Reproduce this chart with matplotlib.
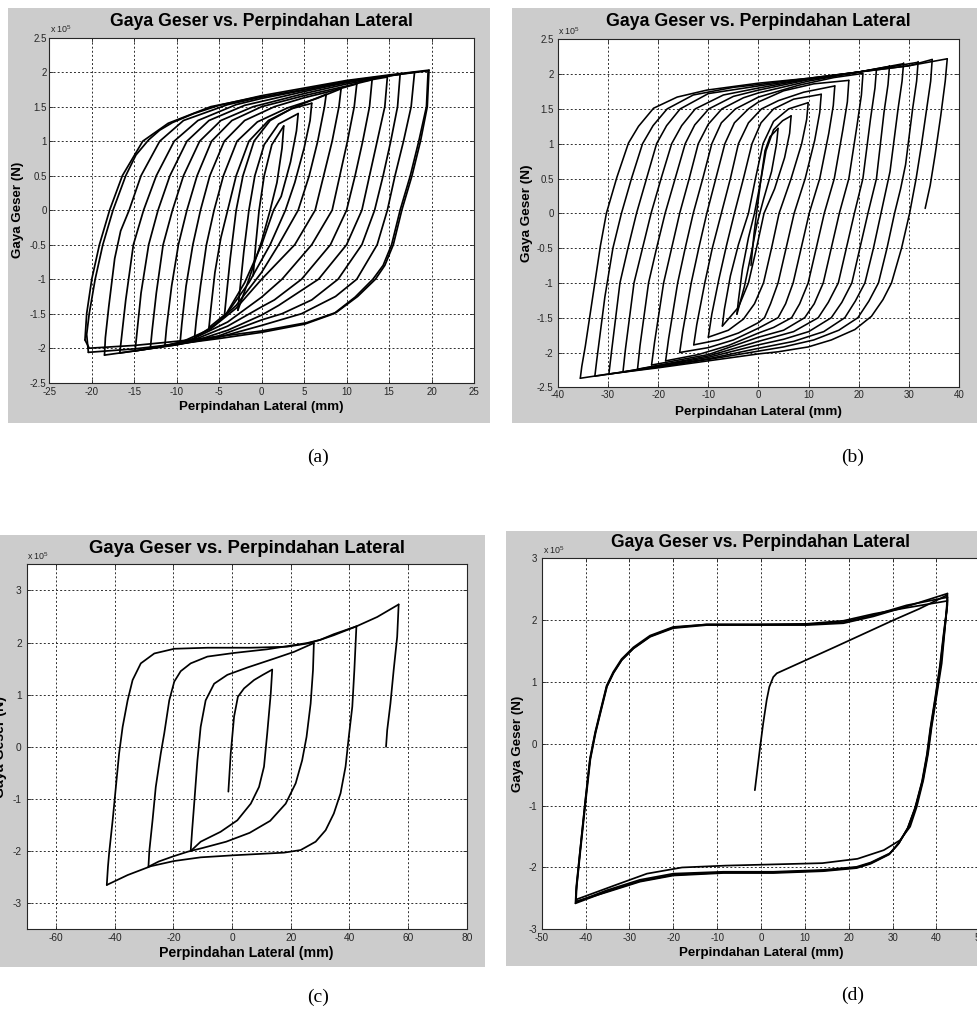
import matplotlib
matplotlib.use("Agg")
import matplotlib.pyplot as plt
from matplotlib.patches import Rectangle
from matplotlib.ticker import FixedLocator, FuncFormatter

# ===================== DATA (force in units of 1e5 N, displacement in mm) =====================
TITLE = "Gaya Geser vs. Perpindahan Lateral"
XLABEL = "Perpindahan Lateral (mm)"
YLABEL = "Gaya Geser (N)"
SCALE_LABEL = r"x 10$^{5}$"
PANEL_LABELS = ["(a)", "(b)", "(c)", "(d)"]

# ---------- panel (a) ----------
a_xlim = (-25, 25)
a_ylim = (-2.5, 2.5)
a_xticks = [-25, -20, -15, -10, -5, 0, 5, 10, 15, 20, 25]
a_yticks = [-2.5, -2, -1.5, -1, -0.5, 0, 0.5, 1, 1.5, 2, 2.5]
a_loading = [
    [(-1.0, -0.95), (-0.7, -0.5), (-0.3, 0.0), (0.3, 0.5), (1.2, 0.95), (2.6, 1.22)],
    [(-2.8, -1.45), (-2.6, -1.2), (-2.1, -0.6), (-1.5, 0.0), (-0.8, 0.5), (0.3, 0.95), (2.0, 1.25), (4.3, 1.40)],
    [(-4.4, -1.55), (-4.2, -1.3), (-3.7, -0.7), (-3.0, 0.0), (-2.2, 0.5), (-0.9, 1.0), (1.0, 1.3), (3.5, 1.47), (5.9, 1.55)],
    [(-6.2, -1.70), (-6.0, -1.45), (-5.5, -0.9), (-4.8, -0.4), (-4.0, 0.0), (-3.0, 0.5), (-1.5, 1.0), (0.8, 1.3), (4.0, 1.5), (7.6, 1.68)],
    [(-7.9, -1.85), (-7.7, -1.6), (-7.2, -1.1), (-6.5, -0.5), (-5.6, 0.0), (-4.5, 0.5), (-2.9, 1.0), (-0.5, 1.28), (3.0, 1.48), (6.5, 1.62), (9.35, 1.76)],
    [(-9.6, -1.92), (-9.4, -1.65), (-8.9, -1.1), (-8.1, -0.5), (-7.2, 0.0), (-6.1, 0.5), (-4.4, 1.0), (-2.0, 1.3), (1.5, 1.5), (5.0, 1.63), (8.0, 1.72), (11.2, 1.83)],
    [(-11.4, -1.97), (-11.2, -1.7), (-10.6, -1.1), (-9.8, -0.5), (-8.8, 0.0), (-7.6, 0.5), (-5.9, 1.0), (-3.5, 1.3), (0.0, 1.5), (5.0, 1.66), (10.0, 1.8), (13.0, 1.89)],
    [(-13.1, -2.00), (-12.9, -1.75), (-12.4, -1.2), (-11.6, -0.5), (-10.5, 0.0), (-9.2, 0.5), (-7.3, 1.0), (-4.8, 1.3), (-1.0, 1.5), (5.0, 1.69), (10.0, 1.83), (14.8, 1.93)],
    [(-14.9, -2.04), (-14.7, -1.8), (-14.2, -1.2), (-13.3, -0.5), (-12.2, 0.0), (-10.8, 0.5), (-8.8, 1.0), (-6.2, 1.3), (-2.0, 1.52), (5.0, 1.72), (10.0, 1.85), (16.3, 1.97)],
    [(-16.7, -2.07), (-16.5, -1.85), (-16.0, -1.3), (-15.1, -0.5), (-13.9, 0.0), (-12.4, 0.5), (-10.3, 1.0), (-7.5, 1.3), (-3.0, 1.53), (0.0, 1.62), (5.0, 1.74), (10.0, 1.86), (15.0, 1.95), (18.0, 2.00)],
    [(-18.5, -2.10), (-18.4, -1.85), (-18.0, -1.4), (-17.3, -0.7), (-16.6, -0.3), (-15.6, 0.0), (-14.2, 0.5), (-12.0, 1.0), (-9.2, 1.3), (-4.0, 1.53), (0.0, 1.64), (5.0, 1.75), (10.0, 1.87), (15.0, 1.95), (19.6, 2.02)],
    [(-20.4, -2.06), (-20.6, -1.8), (-20.3, -1.5), (-19.6, -1.0), (-18.7, -0.5), (-17.5, 0.0), (-16.0, 0.5), (-14.8, 0.8), (-13.3, 1.02), (-12.0, 1.16), (-10.5, 1.27), (-8.0, 1.40), (-5.0, 1.52), (0.0, 1.66), (5.0, 1.77), (10.0, 1.88), (15.0, 1.96), (19.7, 2.03)],
    [(-20.8, -1.88), (-20.6, -1.5), (-20.0, -1.0), (-19.1, -0.5), (-17.9, 0.0), (-16.4, 0.5), (-14.0, 1.0), (-11.0, 1.26), (-6.0, 1.5), (0.0, 1.65)],
]
a_unloading = [
    [(2.6, 1.22), (2.4, 0.9), (1.8, 0.4), (1.0, 0.0), (0.0, -0.45), (-1.5, -1.0), (-2.8, -1.45)],
    [(4.3, 1.40), (4.1, 1.15), (3.4, 0.7), (2.3, 0.2), (1.4, 0.0), (0.0, -0.5), (-2.0, -1.05), (-4.4, -1.55)],
    [(5.9, 1.55), (5.7, 1.3), (5.0, 0.9), (3.9, 0.4), (2.8, 0.0), (1.0, -0.5), (-1.5, -1.05), (-4.0, -1.48), (-6.2, -1.70)],
    [(7.6, 1.68), (7.4, 1.5), (6.6, 1.0), (5.6, 0.5), (4.3, 0.0), (2.0, -0.5), (0.0, -0.9), (-3.0, -1.38), (-5.5, -1.66), (-7.9, -1.85)],
    [(9.35, 1.76), (9.1, 1.5), (8.3, 1.0), (7.3, 0.5), (6.3, 0.0), (3.9, -0.5), (0.0, -1.0), (-3.0, -1.42), (-6.0, -1.72), (-9.6, -1.92)],
    [(11.2, 1.83), (10.9, 1.5), (10.1, 1.0), (9.2, 0.5), (8.3, 0.0), (5.9, -0.5), (2.4, -1.0), (0.0, -1.26), (-4.0, -1.62), (-8.0, -1.86), (-11.4, -1.97)],
    [(13.0, 1.89), (12.7, 1.5), (11.9, 1.0), (11.0, 0.5), (10.0, 0.0), (8.1, -0.5), (4.7, -1.0), (1.5, -1.3), (0.0, -1.40), (-4.0, -1.68), (-8.0, -1.88), (-13.1, -2.00)],
    [(14.8, 1.93), (14.5, 1.5), (13.6, 1.0), (12.7, 0.5), (11.8, 0.0), (10.0, -0.5), (6.7, -1.0), (2.0, -1.38), (0.0, -1.52), (-4.0, -1.74), (-8.0, -1.90), (-14.9, -2.04)],
    [(16.3, 1.97), (16.0, 1.5), (15.2, 1.0), (14.3, 0.5), (13.3, 0.0), (11.8, -0.5), (9.0, -1.0), (5.9, -1.3), (2.4, -1.5), (0.0, -1.59), (-5.0, -1.82), (-10.0, -1.95), (-16.7, -2.07)],
    [(18.0, 2.00), (17.6, 1.5), (16.7, 1.0), (15.7, 0.5), (14.8, 0.0), (13.6, -0.5), (11.2, -1.0), (8.7, -1.25), (4.7, -1.5), (0.0, -1.67), (-5.0, -1.84), (-10.0, -1.95), (-15.0, -2.04), (-18.5, -2.10)],
    [(19.6, 2.02), (19.4, 1.5), (18.5, 1.0), (17.5, 0.5), (16.3, 0.0), (15.3, -0.5), (14.3, -0.8), (13.1, -1.0), (11.0, -1.26), (8.5, -1.5), (5.1, -1.65), (0.0, -1.77), (-5.0, -1.86), (-10.0, -1.94), (-15.0, -2.01), (-20.4, -2.06)],
    [(19.7, 2.03), (19.5, 1.5), (18.7, 1.0), (17.7, 0.5), (16.5, 0.0), (15.5, -0.5), (14.5, -0.8), (13.4, -1.0), (11.3, -1.25), (8.8, -1.48), (5.3, -1.63), (0.0, -1.75), (-5.0, -1.83), (-10.0, -1.9), (-15.0, -1.96), (-20.3, -2.0), (-20.8, -1.88)],
]

# ---------- panel (b) ----------
b_xlim = (-40, 40)
b_ylim = (-2.5, 2.5)
b_xticks = [-40, -30, -20, -10, 0, 10, 20, 30, 40]
b_yticks = [-2.5, -2, -1.5, -1, -0.5, 0, 0.5, 1, 1.5, 2, 2.5]
b_loading = [
    [(-1.5, -0.75), (-0.9, -0.3), (-0.3, 0.05), (0.5, 0.5), (1.3, 0.9), (2.3, 1.1), (3.9, 1.22)],
    [(-4.3, -1.45), (-4.0, -1.25), (-3.2, -0.8), (-2.0, -0.35), (-0.8, 0.0), (0.4, 0.45), (1.5, 0.9), (3.0, 1.2), (4.8, 1.33), (6.5, 1.40)],
    [(-7.2, -1.62), (-6.8, -1.38), (-5.6, -0.9), (-4.0, -0.45), (-2.0, 0.0), (-0.6, 0.5), (0.9, 1.0), (3.0, 1.32), (6.0, 1.5), (9.9, 1.59)],
    [(-10.0, -1.78), (-9.3, -1.45), (-7.9, -0.95), (-6.4, -0.47), (-4.8, 0.0), (-3.0, 0.5), (-1.3, 1.0), (0.5, 1.3), (3.0, 1.5), (7.0, 1.64), (12.5, 1.71)],
    [(-12.9, -1.89), (-12.3, -1.6), (-10.7, -1.0), (-9.2, -0.5), (-7.4, 0.0), (-5.6, 0.5), (-4.0, 1.0), (-2.0, 1.3), (0.6, 1.5), (4.0, 1.62), (9.0, 1.74), (15.2, 1.83)],
    [(-15.7, -2.0), (-15.1, -1.7), (-13.4, -1.0), (-11.9, -0.5), (-10.3, 0.0), (-8.5, 0.5), (-6.7, 1.0), (-4.8, 1.3), (-2.0, 1.5), (0.0, 1.6), (5.0, 1.76), (11.0, 1.86), (18.0, 1.91)],
    [(-18.5, -2.12), (-17.9, -1.8), (-16.1, -1.0), (-14.6, -0.5), (-13.0, 0.0), (-11.1, 0.5), (-9.3, 1.0), (-7.4, 1.3), (-4.6, 1.5), (0.0, 1.67), (8.0, 1.84), (15.0, 1.95), (20.8, 2.01)],
    [(-21.3, -2.18), (-20.7, -1.85), (-18.9, -1.0), (-17.3, -0.5), (-15.7, 0.0), (-13.8, 0.5), (-12.0, 1.0), (-10.0, 1.28), (-7.3, 1.5), (-3.0, 1.66), (0.0, 1.73), (10.0, 1.9), (20.0, 2.03), (23.5, 2.07)],
    [(-24.1, -2.24), (-23.6, -1.9), (-21.9, -1.0), (-20.3, -0.5), (-18.6, 0.0), (-16.6, 0.5), (-14.6, 1.0), (-12.7, 1.27), (-9.9, 1.5), (-5.0, 1.68), (0.0, 1.77), (10.0, 1.92), (20.0, 2.03), (26.1, 2.11)],
    [(-27.0, -2.28), (-26.5, -1.95), (-24.8, -1.0), (-23.1, -0.5), (-21.4, 0.0), (-19.4, 0.5), (-17.3, 1.0), (-15.3, 1.26), (-12.6, 1.5), (-7.0, 1.7), (0.0, 1.8), (10.0, 1.93), (20.0, 2.03), (28.9, 2.15)],
    [(-29.8, -2.31), (-29.3, -2.0), (-27.6, -1.0), (-26.0, -0.5), (-24.3, 0.0), (-22.3, 0.5), (-20.3, 1.0), (-18.3, 1.26), (-15.6, 1.5), (-10.0, 1.72), (0.0, 1.83), (10.0, 1.93), (20.0, 2.03), (31.8, 2.17)],
    [(-32.6, -2.34), (-32.2, -2.1), (-30.6, -1.2), (-29.0, -0.5), (-27.3, 0.0), (-25.3, 0.5), (-23.1, 1.0), (-21.0, 1.26), (-18.2, 1.5), (-13.0, 1.7), (-5.0, 1.81), (0.0, 1.85), (10.0, 1.94), (20.0, 2.03), (30.0, 2.12), (34.6, 2.21)],
    [(-35.5, -2.37), (-35.2, -2.2), (-34.5, -1.91), (-33.5, -1.43), (-32.5, -0.95), (-31.5, -0.47), (-30.3, 0.0), (-28.2, 0.52), (-25.9, 1.01), (-23.9, 1.25), (-20.9, 1.51), (-16.2, 1.67), (-10.3, 1.77), (0.0, 1.87), (10.0, 1.94), (20.0, 2.03), (30.0, 2.12), (37.6, 2.22)],
]
b_unloading = [
    [(3.9, 1.22), (3.6, 1.0), (2.6, 0.6), (1.0, 0.2), (-0.3, -0.15), (-1.5, -0.6), (-2.8, -1.05), (-4.3, -1.45)],
    [(6.5, 1.40), (6.2, 1.15), (5.2, 0.8), (3.2, 0.35), (1.1, 0.0), (-0.4, -0.5), (-2.0, -1.0), (-4.0, -1.35), (-7.2, -1.62)],
    [(9.9, 1.59), (9.6, 1.35), (8.6, 1.0), (6.5, 0.5), (4.1, 0.0), (2.6, -0.5), (1.0, -1.0), (-0.8, -1.3), (-3.0, -1.52), (-6.0, -1.68), (-10.0, -1.78)],
    [(12.5, 1.71), (12.2, 1.45), (11.2, 1.05), (9.3, 0.5), (7.1, 0.0), (5.5, -0.5), (3.9, -1.0), (2.4, -1.3), (1.2, -1.5), (0.0, -1.57), (-4.0, -1.72), (-8.0, -1.82), (-12.9, -1.89)],
    [(15.2, 1.83), (14.9, 1.55), (14.0, 1.15), (12.2, 0.5), (10.1, 0.0), (8.5, -0.5), (6.9, -1.0), (5.4, -1.3), (3.9, -1.5), (0.0, -1.65), (-5.0, -1.82), (-10.0, -1.93), (-15.7, -2.0)],
    [(18.0, 1.91), (17.7, 1.6), (16.8, 1.2), (15.1, 0.5), (13.1, 0.0), (11.5, -0.5), (9.9, -1.0), (8.2, -1.3), (6.6, -1.5), (3.0, -1.64), (0.0, -1.72), (-6.0, -1.9), (-12.0, -2.03), (-18.5, -2.12)],
    [(20.8, 2.0), (20.5, 1.7), (19.6, 1.25), (18.0, 0.5), (16.1, 0.0), (14.5, -0.5), (12.9, -1.0), (11.1, -1.3), (9.2, -1.5), (5.0, -1.68), (0.0, -1.78), (-10.0, -2.03), (-21.3, -2.18)],
    [(23.5, 2.07), (23.2, 1.8), (22.3, 1.35), (20.8, 0.5), (19.1, 0.0), (17.5, -0.5), (15.9, -1.0), (13.9, -1.28), (11.9, -1.5), (7.0, -1.7), (0.0, -1.84), (-10.0, -2.05), (-24.1, -2.24)],
    [(26.1, 2.12), (25.8, 1.85), (25.0, 1.45), (23.5, 0.5), (21.8, 0.0), (20.2, -0.5), (18.6, -1.0), (16.6, -1.28), (14.5, -1.5), (10.0, -1.7), (5.0, -1.81), (0.0, -1.89), (-10.0, -2.07), (-20.0, -2.19), (-27.0, -2.28)],
    [(28.9, 2.16), (28.6, 1.9), (27.8, 1.5), (26.2, 0.6), (24.4, 0.0), (22.9, -0.5), (21.2, -1.0), (19.3, -1.26), (17.2, -1.5), (13.0, -1.7), (7.0, -1.84), (0.0, -1.94), (-10.0, -2.09), (-20.0, -2.2), (-29.8, -2.31)],
    [(31.8, 2.18), (31.5, 1.9), (30.7, 1.5), (29.3, 0.7), (28.3, 0.35), (27.1, 0.0), (25.6, -0.5), (23.9, -1.0), (22.0, -1.26), (19.8, -1.5), (16.0, -1.68), (11.0, -1.82), (5.0, -1.92), (0.0, -1.98), (-10.0, -2.1), (-20.0, -2.21), (-32.6, -2.34)],
    [(34.6, 2.21), (34.3, 1.9), (33.5, 1.5), (32.5, 1.0), (31.4, 0.5), (30.1, 0.0), (28.5, -0.5), (26.5, -1.0), (24.8, -1.24), (22.5, -1.48), (19.2, -1.67), (14.5, -1.82), (9.9, -1.92), (3.9, -1.99), (0.0, -2.02), (-10.0, -2.12), (-20.0, -2.22), (-30.0, -2.31), (-35.5, -2.37)],
    [(37.6, 2.22), (37.2, 1.9), (36.3, 1.4), (35.2, 0.85), (34.2, 0.4), (33.2, 0.07)],
]

# ---------- panel (c) ----------
c_xlim = (-70, 80)
c_ylim = (-3.5, 3.5)
c_xticks = [-60, -40, -20, 0, 20, 40, 60, 80]
c_yticks = [-3, -2, -1, 0, 1, 2, 3]
c_loading = [
    [(-1.25, -0.86), (-0.45, -0.13), (0.7, 0.58), (2.0, 0.96), (4.1, 1.12), (7.5, 1.28), (10.5, 1.38), (13.7, 1.48)],
    [(-14.1, -2.0), (-13.6, -1.6), (-12.9, -1.09), (-11.8, -0.26), (-10.7, 0.38), (-9.0, 0.89), (-6.1, 1.21), (-1.6, 1.38), (5.2, 1.52), (14.3, 1.69), (21.1, 1.82), (27.9, 1.99)],
    [(-28.5, -2.3), (-28.2, -2.0), (-27.1, -1.41), (-26.0, -0.77), (-24.3, -0.13), (-23.1, 0.26), (-21.4, 0.89), (-19.7, 1.25), (-17.5, 1.45), (-14.1, 1.6), (-8.4, 1.73), (0.7, 1.8), (12.0, 1.87), (20.0, 1.94), (25.6, 1.99), (30.0, 2.05), (34.7, 2.14), (42.4, 2.31)],
    [(-42.7, -2.65), (-42.3, -2.3), (-41.9, -2.04), (-40.7, -1.41), (-39.6, -0.77), (-38.5, -0.13), (-37.3, 0.38), (-35.6, 0.89), (-33.9, 1.28), (-31.1, 1.6), (-26.5, 1.79), (-19.7, 1.88), (-8.4, 1.9), (6.4, 1.9), (18.8, 1.92), (25.6, 1.98), (30.0, 2.05), (34.7, 2.16), (42.4, 2.31), (49.5, 2.49), (56.8, 2.73)],
]
c_unloading = [
    [(13.7, 1.48), (13.2, 1.02), (12.0, 0.26), (10.9, -0.38), (9.2, -0.77), (6.4, -1.09), (1.8, -1.41), (-3.9, -1.63), (-10.7, -1.82), (-14.1, -2.0)],
    [(27.9, 1.99), (27.6, 1.47), (26.8, 0.83), (25.4, 0.19), (23.9, -0.26), (21.7, -0.7), (18.3, -1.09), (13.0, -1.42), (6.0, -1.65), (-2.0, -1.82), (-10.0, -1.94), (-15.0, -2.01), (-20.0, -2.1), (-25.0, -2.2), (-28.5, -2.3)],
    [(42.4, 2.31), (41.7, 1.47), (41.0, 0.77), (39.8, 0.19), (38.7, -0.38), (37.0, -0.89), (34.7, -1.28), (31.9, -1.6), (28.5, -1.82), (23.4, -1.98), (17.7, -2.03), (7.5, -2.06), (0.7, -2.08), (-10.7, -2.12), (-19.7, -2.19), (-27.7, -2.29), (-35.6, -2.46), (-42.7, -2.65)],
    [(56.8, 2.73), (56.3, 2.11), (55.1, 1.47), (54.0, 0.83), (52.9, 0.32), (52.5, 0.0)],
]

# ---------- panel (d) ----------
d_xlim = (-50, 50)
d_ylim = (-3, 3)
d_xticks = [-50, -40, -30, -20, -10, 0, 10, 20, 30, 40, 50]
d_yticks = [-3, -2, -1, 0, 1, 2, 3]
d_loading = [
    [(-1.4, -0.75), (-0.2, -0.05), (0.5, 0.33), (1.3, 0.71), (1.9, 0.92), (2.8, 1.08), (3.6, 1.14), (17.0, 1.57), (30.2, 2.0), (36.0, 2.18), (42.3, 2.4)],
    [(-42.2, -2.52), (-42.2, -2.42), (-41.3, -1.77), (-40.1, -0.96), (-39.0, -0.26), (-37.8, 0.17), (-36.7, 0.49), (-35.2, 0.92), (-33.7, 1.14), (-31.8, 1.35), (-29.1, 1.54), (-25.3, 1.73), (-20.0, 1.87), (-12.4, 1.92), (-1.0, 1.92), (10.4, 1.92), (18.8, 1.95), (25.6, 2.06), (33.2, 2.22), (42.5, 2.43)],
    [(-42.2, -2.56), (-42.0, -2.3), (-41.2, -1.75), (-40.0, -0.95), (-38.9, -0.25), (-37.7, 0.18), (-36.6, 0.5), (-35.1, 0.93), (-33.6, 1.15), (-31.7, 1.36), (-29.0, 1.55), (-25.2, 1.74), (-20.0, 1.88), (-12.4, 1.93), (-1.0, 1.93), (10.4, 1.93), (18.8, 1.97), (25.6, 2.08), (33.2, 2.24), (42.5, 2.37)],
    [(-42.3, -2.58), (-42.1, -2.3), (-41.3, -1.76), (-40.1, -0.94), (-39.0, -0.24), (-37.8, 0.19), (-36.7, 0.51), (-35.2, 0.94), (-33.7, 1.16), (-31.8, 1.37), (-29.1, 1.56), (-25.3, 1.75), (-20.0, 1.89), (-12.4, 1.93), (-1.0, 1.93), (10.4, 1.94), (18.8, 1.99), (25.6, 2.1), (33.2, 2.2), (42.4, 2.31)],
]
d_unloading = [
    [(42.3, 2.4), (42.5, 2.32), (41.9, 1.84), (41.2, 1.3), (40.0, 0.76), (38.9, 0.27), (38.1, -0.16), (37.0, -0.59), (35.5, -1.02), (34.0, -1.34), (31.7, -1.56), (28.0, -1.72), (22.0, -1.86), (14.0, -1.93), (3.0, -1.95), (-8.0, -1.97), (-18.0, -2.0), (-26.0, -2.1), (-33.0, -2.28), (-42.2, -2.52)],
    [(42.5, 2.43), (42.5, 2.25), (41.8, 1.8), (41.0, 1.3), (39.9, 0.76), (38.8, 0.27), (38.0, -0.16), (36.9, -0.59), (35.3, -1.02), (33.6, -1.35), (31.5, -1.6), (29.4, -1.77), (25.0, -1.92), (21.8, -1.99), (14.2, -2.04), (2.8, -2.07), (-8.6, -2.07), (-20.0, -2.1), (-27.6, -2.2), (-35.2, -2.37), (-42.2, -2.56)],
    [(42.5, 2.37), (42.4, 2.2), (41.7, 1.78), (40.9, 1.28), (39.8, 0.75), (38.7, 0.26), (37.9, -0.17), (36.8, -0.6), (35.2, -1.03), (33.5, -1.36), (31.4, -1.61), (29.3, -1.78), (25.0, -1.93), (21.8, -2.0), (14.2, -2.05), (2.8, -2.08), (-8.6, -2.08), (-20.0, -2.12), (-27.6, -2.22), (-35.2, -2.39), (-42.3, -2.58)],
    [(42.4, 2.31), (42.3, 2.15), (41.6, 1.76), (40.8, 1.27), (39.7, 0.74), (38.6, 0.25), (37.8, -0.18), (36.7, -0.61), (35.1, -1.04), (33.4, -1.37), (31.3, -1.62), (29.2, -1.79), (25.0, -1.94), (21.8, -2.01), (14.2, -2.06), (2.8, -2.09), (-8.6, -2.09), (-20.0, -2.13), (-27.6, -2.23), (-35.2, -2.4), (-42.2, -2.55)],
]

# ===================== LAYOUT / STYLE =====================
W, H = 978, 1011
GRAY = "#cccccc"
plt.rcParams["font.family"] = ["Liberation Sans", "DejaVu Sans"]
plt.rcParams["axes.unicode_minus"] = False
plt.rcParams["mathtext.fontset"] = "custom"
plt.rcParams["mathtext.rm"] = "Liberation Sans"
plt.rcParams["mathtext.it"] = "Liberation Sans"
plt.rcParams["mathtext.bf"] = "Liberation Sans:bold"
plt.rcParams["mathtext.default"] = "regular"

fig = plt.figure(figsize=(W / 100, H / 100), dpi=100)
fig.patch.set_facecolor("white")


def ftext(x, y, s, **kw):
    return fig.text(x / W, 1 - y / H, s, **kw)


panels = [
    dict(frame=(8, 8, 490, 423), box=(49.3, 37.7, 474.0, 382.7),
         xlim=a_xlim, ylim=a_ylim, xticks=a_xticks, yticks=a_yticks,
         branches=a_loading + a_unloading, lw=1.25,
         title_fs=12.7, title_y=21.7, lab_fs=9.6, xlab_y=406.7, ylab_x=18.3,
         tick_fs=7.0, ypad=1.9, xpad=2.8,
         sci=(50, 33.3), label=PANEL_LABELS[0], label_xy=(318, 457)),
    dict(frame=(512, 8, 978, 423), box=(557.7, 39.3, 959.3, 387.3),
         xlim=b_xlim, ylim=b_ylim, xticks=b_xticks, yticks=b_yticks,
         branches=b_loading + b_unloading, lw=1.15,
         title_fs=12.8, title_y=21.7, lab_fs=9.7, xlab_y=411.7, ylab_x=526.7,
         tick_fs=7.0, ypad=3.0, xpad=2.0,
         sci=(558.3, 35.0), label=PANEL_LABELS[1], label_xy=(853, 457)),
    dict(frame=(0, 535, 485, 967), box=(26.7, 564.3, 466.7, 929.3),
         xlim=c_xlim, ylim=c_ylim, xticks=c_xticks, yticks=c_yticks,
         branches=c_loading + c_unloading, lw=1.25,
         title_fs=13.3, title_y=548.3, lab_fs=10.2, xlab_y=952.7, ylab_x=0.0,
         tick_fs=7.3, ypad=3.6, xpad=2.8,
         sci=(27.3, 560.0), label=PANEL_LABELS[2], label_xy=(318, 997)),
    dict(frame=(506, 531, 978, 966), box=(541.7, 558.3, 980.3, 929.3),
         xlim=d_xlim, ylim=d_ylim, xticks=d_xticks, yticks=d_yticks,
         branches=d_loading + d_unloading, lw=1.25,
         title_fs=12.65, title_y=542.7, lab_fs=9.6, xlab_y=952.7, ylab_x=518.3,
         tick_fs=7.0, ypad=3.6, xpad=2.8,
         sci=(542.7, 554.0), label=PANEL_LABELS[3], label_xy=(853, 995)),
]

fmt = FuncFormatter(lambda v, p: f"{v:g}")

for P in panels:
    x0, y0, x1, y1 = P["frame"]
    fig.patches.append(Rectangle((x0 / W, 1 - y1 / H), (x1 - x0) / W, (y1 - y0) / H,
                                 transform=fig.transFigure, facecolor=GRAY,
                                 edgecolor="none", zorder=-10))
    l, t, r, b = P["box"]
    ax = fig.add_axes([l / W, 1 - b / H, (r - l) / W, (b - t) / H])
    ax.set_facecolor("white")
    for br in P["branches"]:
        xs = [p[0] for p in br]
        ys = [p[1] for p in br]
        ax.plot(xs, ys, color="black", lw=P["lw"], solid_joinstyle="round",
                solid_capstyle="round", zorder=3)
    ax.set_xlim(*P["xlim"])
    ax.set_ylim(*P["ylim"])
    ax.xaxis.set_major_locator(FixedLocator(P["xticks"]))
    ax.yaxis.set_major_locator(FixedLocator(P["yticks"]))
    ax.xaxis.set_major_formatter(fmt)
    ax.yaxis.set_major_formatter(fmt)
    ax.grid(True, color="#303030", lw=0.7, linestyle=(0, (2, 2.2)), zorder=1)
    ax.tick_params(axis="both", direction="in", length=3, width=0.6,
                   top=True, right=True, colors="#262626", labelsize=P["tick_fs"])
    ax.tick_params(axis="y", pad=P["ypad"])
    ax.tick_params(axis="x", pad=P["xpad"])
    for s in ax.spines.values():
        s.set_color("#262626")
        s.set_linewidth(0.8)

    cx = (l + r) / 2
    cy = (t + b) / 2
    ftext(cx, P["title_y"], TITLE, ha="center", va="center",
          fontsize=P["title_fs"], fontweight="bold", color="black")
    ftext(cx, P["xlab_y"], XLABEL, ha="center", va="center",
          fontsize=P["lab_fs"], fontweight="bold", color="black")
    ftext(P["ylab_x"], cy, YLABEL, ha="center", va="center", rotation=90,
          fontsize=P["lab_fs"], fontweight="bold", color="black")
    sx, sy = P["sci"]
    ftext(sx, sy, SCALE_LABEL, ha="left", va="baseline", fontsize=6.4, color="#262626")
    lx, ly = P["label_xy"]
    ftext(lx, ly, P["label"], ha="center", va="center", fontsize=14,
          family=["Liberation Serif", "DejaVu Serif"], color="black")

fig.savefig("out.png", dpi=100, facecolor="white")
